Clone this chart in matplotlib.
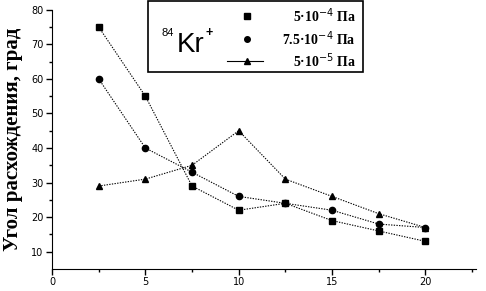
import matplotlib.pyplot as plt
from matplotlib.lines import Line2D
from matplotlib.patches import Rectangle

x = [2.5, 5, 7.5, 10, 12.5, 15, 17.5, 20]
p_5e4 = [75, 55, 29, 22, 24, 19, 16, 13]
p_75e4 = [60, 40, 33, 26, 24, 22, 18, 17]
p_5e5 = [29, 31, 35, 45, 31, 26, 21, 17]
labels = ['5·10$^{-4}$ Па', '7.5·10$^{-4}$ Па', '5·10$^{-5}$ Па']
ylabel = 'Угол расхождения, град'

fig = plt.figure(figsize=(4.86, 2.91), dpi=100)
ax = fig.add_axes([0.107, 0.0756, 0.872, 0.891])

ls = (0, (1.2, 1.2))
ax.plot(x, p_5e4, color='black', lw=0.8, ls=ls, marker='s', ms=4.5)
ax.plot(x, p_75e4, color='black', lw=0.8, ls=ls, marker='o', ms=4.5)
ax.plot(x, p_5e5, color='black', lw=0.8, ls=ls, marker='^', ms=5)

ax.set_xlim(0, 22.7)
ax.set_ylim(5, 80)
ax.set_xticks([0, 5, 10, 15, 20])
ax.set_xticks([2.5, 7.5, 12.5, 17.5, 22.5], minor=True)
ax.set_yticks([10, 20, 30, 40, 50, 60, 70, 80])
ax.set_yticks([15, 25, 35, 45, 55, 65, 75], minor=True)
ax.spines['top'].set_visible(False)
ax.spines['right'].set_visible(False)
ax.spines['left'].set_bounds(5, 80)
ax.tick_params(which='major', direction='out', length=4, width=1, labelsize=7, pad=2)
ax.tick_params(which='minor', direction='out', length=2.5, width=1)
ax.set_ylabel(ylabel, fontsize=15, fontweight='bold', family='Liberation Serif', labelpad=6)

# legend box drawn by hand in figure pixels
W, H = 486, 291
fig.patches.append(Rectangle((148 / W, 1 - 72 / H), 215 / W, 71 / H, transform=fig.transFigure,
                             fill=False, ec='black', lw=1.2))
fig.text(162 / W, 1 - 28 / H, '84', fontsize=8, family='Liberation Sans', ha='left', va='top')
fig.text(177 / W, 1 - 52 / H, 'Kr', fontsize=20, family='Liberation Sans', ha='left', va='baseline')
fig.text(205 / W, 1 - 27 / H, '+', fontsize=9, fontweight='bold', family='Liberation Sans',
         ha='left', va='top')
rows = [(16, 's', None), (39, 'o', None), (61, '^', '-')]
for (yy, m, l), lab in zip(rows, labels):
    fy = 1 - yy / H
    if l:
        fig.lines.append(Line2D([227 / W, 263 / W], [fy, fy], transform=fig.transFigure,
                                color='black', lw=0.8))
    fig.lines.append(Line2D([247 / W], [fy], transform=fig.transFigure, color='black',
                            marker=m, ms=4 if m != '^' else 5, ls='none'))
    fig.text(356 / W, fy, lab, fontsize=10, fontweight='bold', family='Liberation Serif',
             ha='right', va='center')

fig.savefig('out.png', dpi=100)
